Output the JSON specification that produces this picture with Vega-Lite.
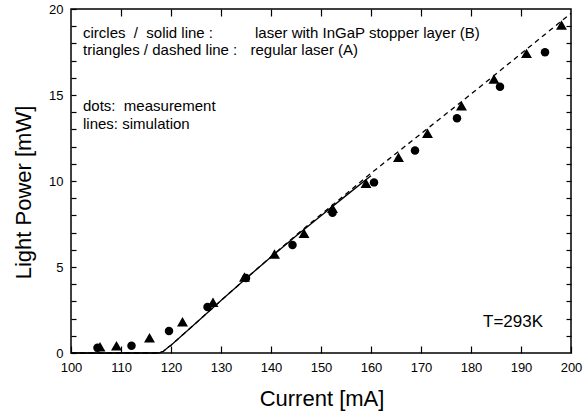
{
  "$schema": "https://vega.github.io/schema/vega-lite/v6.json",
  "width": 500,
  "height": 344,
  "autosize": {"type": "none"},
  "padding": {"left": 71, "top": 9, "right": 12, "bottom": 59},
  "background": "white",
  "config": {
    "view": {"stroke": "black", "strokeWidth": 1.5},
    "font": "Liberation Sans",
    "axis": {
      "domain": false,
      "grid": false,
      "tickColor": "black",
      "tickWidth": 1.2,
      "labelColor": "black",
      "labelFont": "Liberation Sans",
      "labelFontSize": 13,
      "titleColor": "black",
      "titleFont": "Liberation Sans",
      "titleFontSize": 22,
      "titleFontWeight": "normal"
    }
  },
  "datasets": {
    "lineB": [
      {"I": 100, "P": 0}, {"I": 117.5, "P": 0}, {"I": 118.5, "P": 0.1}, {"I": 119.5, "P": 0.35},
      {"I": 120, "P": 0.45}, {"I": 125, "P": 1.75}, {"I": 130, "P": 3.05}, {"I": 135, "P": 4.33},
      {"I": 140, "P": 5.58}, {"I": 145, "P": 6.8}, {"I": 150, "P": 7.98}, {"I": 155, "P": 9.15},
      {"I": 160, "P": 10.3}
    ],
    "lineA": [
      {"I": 100, "P": 0}, {"I": 117.5, "P": 0}, {"I": 118.5, "P": 0.1}, {"I": 119.5, "P": 0.35},
      {"I": 120, "P": 0.45}, {"I": 125, "P": 1.75}, {"I": 130, "P": 3.05}, {"I": 135, "P": 4.33},
      {"I": 140, "P": 5.6}, {"I": 145, "P": 6.85}, {"I": 150, "P": 8.05}, {"I": 155, "P": 9.25},
      {"I": 160, "P": 10.45}, {"I": 170, "P": 12.75}, {"I": 180, "P": 15.05}, {"I": 190, "P": 17.4},
      {"I": 200, "P": 19.75}
    ],
    "circles": [
      {"I": 105.3, "P": 0.3}, {"I": 112.1, "P": 0.42}, {"I": 119.6, "P": 1.28}, {"I": 127.3, "P": 2.67},
      {"I": 135.0, "P": 4.36}, {"I": 144.3, "P": 6.28}, {"I": 152.3, "P": 8.16}, {"I": 160.6, "P": 9.92},
      {"I": 168.8, "P": 11.78}, {"I": 177.2, "P": 13.65}, {"I": 185.8, "P": 15.48}, {"I": 194.8, "P": 17.48}
    ],
    "triangles": [
      {"I": 105.8, "P": 0.37}, {"I": 109.1, "P": 0.42}, {"I": 115.7, "P": 0.89}, {"I": 122.3, "P": 1.82},
      {"I": 128.4, "P": 2.95}, {"I": 134.7, "P": 4.42}, {"I": 140.7, "P": 5.75}, {"I": 146.6, "P": 6.96},
      {"I": 152.3, "P": 8.41}, {"I": 159.0, "P": 9.87}, {"I": 165.5, "P": 11.38}, {"I": 171.3, "P": 12.78},
      {"I": 178.1, "P": 14.38}, {"I": 184.6, "P": 15.93}, {"I": 191.1, "P": 17.42}, {"I": 198.1, "P": 19.07}
    ],
    "notes": [
      {"I": 102.4, "P": 18.31, "label": "circles\u00a0\u00a0/\u00a0\u00a0solid line :"},
      {"I": 102.4, "P": 17.33, "label": "triangles / dashed line :"},
      {"I": 136.8, "P": 18.31, "label": "laser with InGaP stopper layer (B)"},
      {"I": 135.9, "P": 17.33, "label": "regular laser (A)"},
      {"I": 102.4, "P": 14.07, "label": "dots:\u00a0\u00a0measurement"},
      {"I": 102.4, "P": 13.02, "label": "lines: simulation"}
    ],
    "temp": [
      {"I": 188.4, "P": 1.53, "label": "T=293K"}
    ]
  },
  "layer": [
    {
      "encoding": {
        "x": {
          "field": "I", "type": "quantitative",
          "scale": {"domain": [100, 200], "nice": false, "zero": false},
          "axis": {
            "orient": "bottom",
            "values": [100, 110, 120, 130, 140, 150, 160, 170, 180, 190, 200],
            "tickSize": -7,
            "labelPadding": 15,
            "labelFlush": false,
            "title": "Current [mA]",
            "titleX": 250.5,
            "titleY": 52,
            "titleBaseline": "alphabetic"
          }
        },
        "y": {
          "field": "P", "type": "quantitative",
          "scale": {"domain": [0, 20], "nice": false, "zero": false},
          "axis": {
            "orient": "left",
            "values": [0, 1, 2, 3, 4, 5, 6, 7, 8, 9, 10, 11, 12, 13, 14, 15, 16, 17, 18, 19, 20],
            "labelExpr": "datum.value % 5 === 0 ? datum.label : ''",
            "tickSize": -5,
            "labelPadding": 13,
            "labelFlush": false,
            "title": "Light Power [mW]",
            "titleX": -41,
            "titleY": 183,
            "titleAngle": -90,
            "titleAlign": "center",
            "titleBaseline": "alphabetic"
          }
        }
      },
      "layer": [
        {
          "data": {"name": "lineB"},
          "mark": {"type": "line", "color": "black", "strokeWidth": 1.3}
        },
        {
          "data": {"name": "lineA"},
          "mark": {"type": "line", "color": "black", "strokeWidth": 1.3, "strokeDash": [5, 4]}
        },
        {
          "data": {"name": "circles"},
          "mark": {"type": "point", "shape": "circle", "filled": true, "color": "black", "opacity": 1, "size": 72}
        },
        {
          "data": {"name": "triangles"},
          "mark": {"type": "point", "shape": "triangle-up", "filled": true, "color": "black", "opacity": 1, "size": 120}
        },
        {
          "data": {"name": "notes"},
          "mark": {"type": "text", "align": "left", "baseline": "alphabetic", "fontSize": 15, "color": "black", "font": "Liberation Sans"},
          "encoding": {"text": {"field": "label"}}
        },
        {
          "data": {"name": "temp"},
          "mark": {"type": "text", "align": "center", "baseline": "alphabetic", "fontSize": 17, "color": "black", "font": "Liberation Sans"},
          "encoding": {"text": {"field": "label"}}
        }
      ]
    },
    {
      "data": {"name": "lineA"},
      "mark": {"type": "line", "opacity": 0},
      "encoding": {
        "x": {
          "field": "I", "type": "quantitative",
          "scale": {"domain": [100, 200], "nice": false, "zero": false},
          "axis": {
            "orient": "top",
            "values": [110, 120, 130, 140, 150, 160, 170, 180, 190],
            "tickSize": -7,
            "labels": false,
            "title": null
          }
        },
        "y": {
          "field": "P", "type": "quantitative",
          "scale": {"domain": [0, 20], "nice": false, "zero": false},
          "axis": {
            "orient": "right",
            "values": [1, 2, 3, 4, 5, 6, 7, 8, 9, 10, 11, 12, 13, 14, 15, 16, 17, 18, 19],
            "tickSize": -5,
            "labels": false,
            "title": null
          }
        }
      }
    }
  ],
  "resolve": {"axis": {"x": "independent", "y": "independent"}}
}
